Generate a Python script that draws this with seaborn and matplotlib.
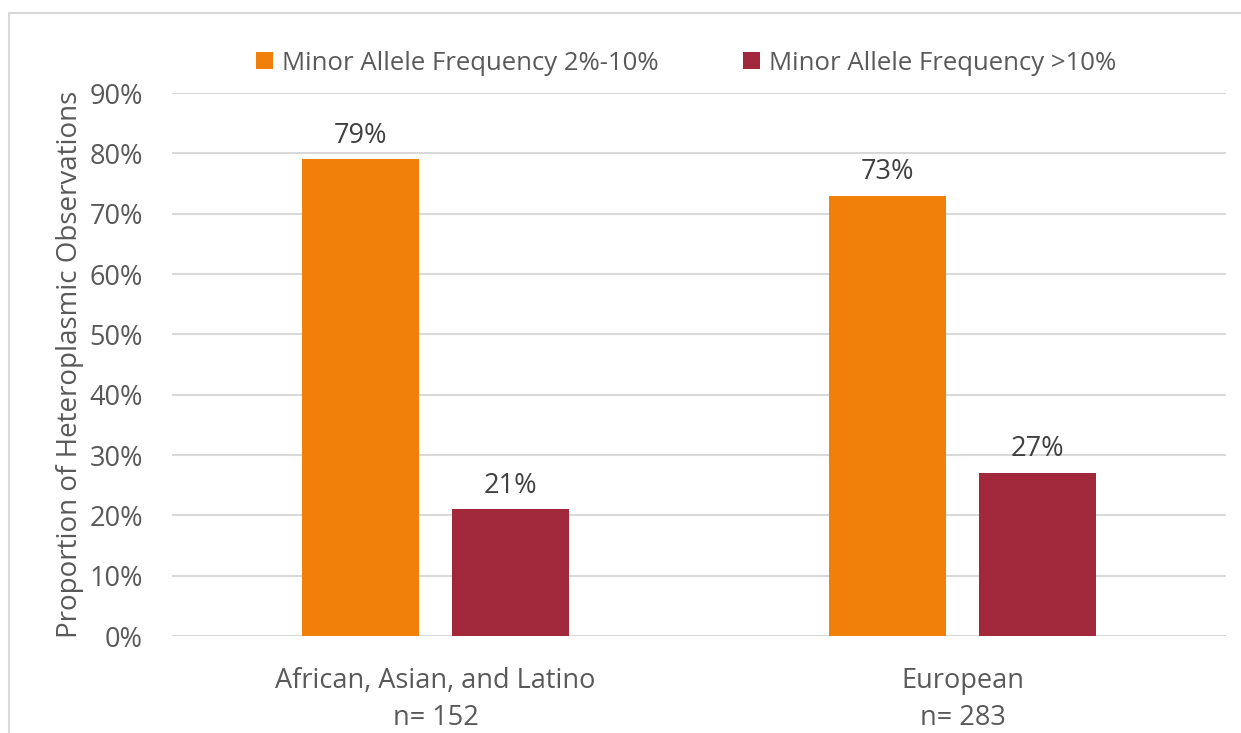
import pandas as pd
import numpy as np
import seaborn as sns
import matplotlib.pyplot as plt
from matplotlib.patches import Rectangle

groups = ["African, Asian, and Latino\nn= 152", "European\nn= 283"]
series = ["Minor Allele Frequency 2%-10%", "Minor Allele Frequency >10%"]
low_freq = [0.79, 0.73]
high_freq = [0.21, 0.27]
yticks = [0, 0.1, 0.2, 0.3, 0.4, 0.5, 0.6, 0.7, 0.8, 0.9]
colors = ["#F0800A", "#A0283A"]
grey = "#595959"

sns.set_style("white")
plt.rcParams["font.family"] = ["Open Sans", "DejaVu Sans"]
plt.rcParams["text.color"] = grey

df = pd.DataFrame({
    "group": groups * 2,
    "series": [series[0]] * 2 + [series[1]] * 2,
    "value": low_freq + high_freq,
})

fig = plt.figure(figsize=(12.41, 7.33), dpi=100)
ax = fig.add_axes([0.1386, 0.1323, 0.8493, 0.7408])

sns.barplot(data=df, x="group", y="value", hue="series", hue_order=series,
            palette=colors, width=0.57, gap=0.22, saturation=1, ax=ax,
            edgecolor="none")

for c in ax.containers:
    ax.bar_label(c, fmt="{:.0%}", padding=7, fontsize=19.5, color="#404040")

ax.set_ylim(0, 0.9)
ax.set_xlim(-0.5, 1.5)
ax.set_yticks(yticks)
ax.set_yticklabels([f"{int(round(t * 100))}%" for t in yticks])
ax.yaxis.grid(True, color="#D9D9D9", linewidth=1.5)
ax.set_axisbelow(True)
for s in ax.spines.values():
    s.set_visible(False)
ax.tick_params(axis="both", length=0, labelsize=19.5, colors=grey)
ax.tick_params(axis="y", pad=21)
ax.tick_params(axis="x", pad=22)
for lab in ax.get_xticklabels():
    lab.set_linespacing(1.45)
ax.set_xlabel("")
ax.set_ylabel("Proportion of Heteroplasmic Observations", fontsize=20,
              color=grey, labelpad=4)

leg = ax.legend(loc="center", bbox_to_anchor=(0.488, 1.055), ncol=2,
                frameon=False, fontsize=18.5, handlelength=0.65,
                handleheight=0.65, handletextpad=0.35, columnspacing=3.3,
                borderaxespad=0)
for t in leg.get_texts():
    t.set_color(grey)

fig.patches.append(Rectangle((9 / 1241, -0.1), 1.2, 1 - 13 / 733 + 0.1,
                             transform=fig.transFigure, fill=False,
                             edgecolor="#D9D9D9", linewidth=1.5))

fig.savefig("out.png", dpi=100, facecolor="white")
